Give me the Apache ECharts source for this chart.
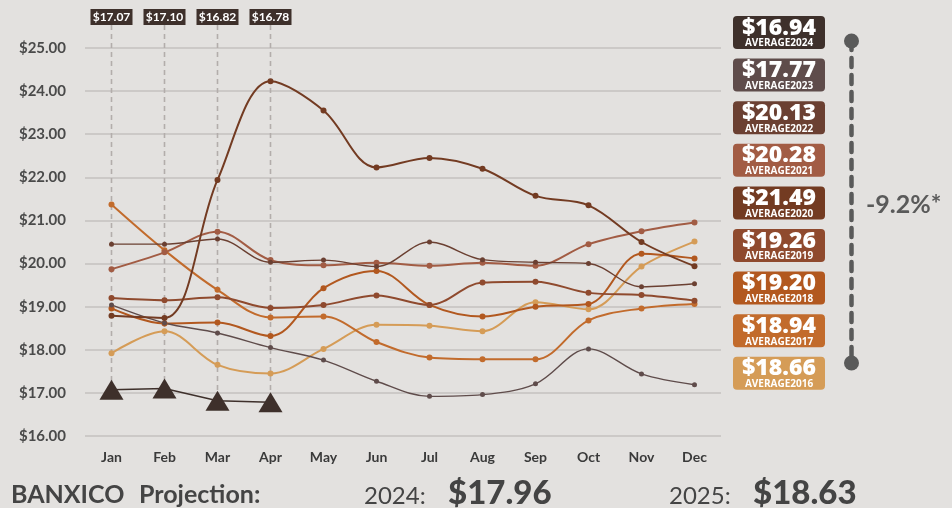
<!DOCTYPE html>
<html>
<head>
<meta charset="utf-8">
<script src="https://cdn.jsdelivr.net/npm/echarts@6/dist/echarts.min.js"></script>
<style>
  html, body { margin: 0; padding: 0; background: #e3e1df; }
  #chart { width: 952px; height: 508px; }
</style>
</head>
<body>
<div id="chart"></div>
<script>
// Monthly USD/MXN exchange rate by year
const months = ['Jan', 'Feb', 'Mar', 'Apr', 'May', 'Jun', 'Jul', 'Aug', 'Sep', 'Oct', 'Nov', 'Dec'];

const rates2016 = [17.92, 18.43, 17.65, 17.45, 18.02, 18.58, 18.56, 18.43, 19.10, 18.94, 19.93, 20.51];
const rates2017 = [21.37, 20.31, 19.39, 18.75, 18.77, 18.18, 17.82, 17.78, 17.78, 18.68, 18.96, 19.06];
const rates2018 = [18.96, 18.61, 18.63, 18.32, 19.43, 19.83, 19.04, 18.77, 19.00, 19.06, 20.23, 20.12];
const rates2019 = [19.20, 19.15, 19.22, 18.97, 19.04, 19.26, 19.04, 19.56, 19.58, 19.32, 19.27, 19.14];
const rates2020 = [18.79, 18.74, 21.94, 24.23, 23.55, 22.23, 22.45, 22.20, 21.57, 21.35, 20.50, 19.94];
const rates2021 = [19.87, 20.26, 20.74, 20.08, 19.96, 20.02, 19.95, 20.02, 19.95, 20.45, 20.75, 20.95];
const rates2022 = [20.45, 20.45, 20.57, 20.03, 20.08, 19.93, 20.50, 20.09, 20.03, 20.00, 19.46, 19.53];
const rates2023 = [19.04, 18.62, 18.39, 18.05, 17.76, 17.27, 16.92, 16.96, 17.21, 18.02, 17.44, 17.19];
const rates2024 = [17.07, 17.10, 16.82, 16.78];

const yearNames = ['2024', '2023', '2022', '2021', '2020', '2019', '2018', '2017', '2016'];
const yearAverages = ['$16.94', '$17.77', '$20.13', '$20.28', '$21.49', '$19.26', '$19.20', '$18.94', '$18.66'];

const changeLabel = '-9.2%*';
const projectionTitle = ['BANXICO', 'Projection:'];
const projectionYears = ['2024:', '2025:'];
const projectionValues = ['$17.96', '$18.63'];

const yMin = 16, yMax = 25, yStep = 1;

// styling
const palette = {
  '2024': '#3e302b', '2023': '#5f4c4b', '2022': '#6b4032', '2021': '#a25c44',
  '2020': '#733b22', '2019': '#8f4a2e', '2018': '#b2581f', '2017': '#c26b2c', '2016': '#d59c57'
};
const bg = '#e3e1df';
const uiFont = 'Lato, "Open Sans", sans-serif';
const badgeFont = '"Open Sans", Lato, sans-serif';

const chart = echarts.init(document.getElementById('chart'), null, { renderer: 'canvas' });

function yearSeries(name, data, width, symbolSize) {
  return {
    name: name,
    type: 'line',
    data: data,
    smooth: 0.35,
    symbol: 'circle',
    symbolSize: symbolSize,
    showSymbol: true,
    lineStyle: { color: palette[name], width: width },
    itemStyle: { color: palette[name] },
    z: 3
  };
}

// vertical guide + value tag above each month of the current year
const tagSeries = {
  type: 'custom',
  data: rates2024.map((v, i) => [i, v]),
  z: 1,
  silent: true,
  renderItem: function (params, api) {
    const p = api.coord([api.value(0), api.value(1)]);
    const text = '$' + api.value(1).toFixed(2);
    return {
      type: 'group',
      children: [
        {
          type: 'line',
          shape: { x1: p[0], y1: 25, x2: p[0], y2: p[1] },
          style: { stroke: '#b3adab', lineWidth: 1.6, lineDash: [5, 4] }
        },
        {
          type: 'rect',
          shape: { x: p[0] - 21, y: 9, width: 42, height: 16 },
          style: { fill: palette['2024'] }
        },
        {
          type: 'text',
          x: p[0], y: 17.5,
          style: {
            text: text, fill: '#ffffff', align: 'center', verticalAlign: 'middle',
            font: '700 12px ' + uiFont
          }
        }
      ]
    };
  }
};

const series = [
  tagSeries,
  yearSeries('2016', rates2016, 2, 6),
  yearSeries('2017', rates2017, 2, 6),
  yearSeries('2018', rates2018, 2, 6),
  yearSeries('2019', rates2019, 2, 6),
  yearSeries('2021', rates2021, 2, 6),
  yearSeries('2022', rates2022, 1.4, 5),
  yearSeries('2023', rates2023, 1.4, 5),
  yearSeries('2020', rates2020, 2, 6),
  {
    name: '2024',
    type: 'line',
    data: rates2024,
    smooth: false,
    symbol: 'triangle',
    symbolSize: [24, 20],
    lineStyle: { color: palette['2024'], width: 1.5 },
    itemStyle: { color: palette['2024'] },
    z: 4
  }
];

// average badges on the right
const badgeChildren = [];
yearNames.forEach((yr, i) => {
  const top = 16 + i * 42.6;
  badgeChildren.push({
    type: 'rect',
    shape: { x: 733, y: top, width: 92, height: 33, r: 4 },
    style: { fill: palette[yr] }
  });
  badgeChildren.push({
    type: 'text',
    x: 779, y: top + 12,
    style: {
      text: yearAverages[i], fill: '#ffffff', align: 'center', verticalAlign: 'middle',
      font: '800 23px ' + badgeFont
    }
  });
  badgeChildren.push({
    type: 'text',
    x: 779, y: top + 27.5,
    style: {
      text: 'AVERAGE' + yr, fill: '#ffffff', align: 'center', verticalAlign: 'middle',
      font: '700 10px ' + badgeFont
    }
  });
});

function label(text, x, y, font, color) {
  return {
    type: 'text', x: x, y: y,
    style: { text: text, fill: color || '#444444', verticalAlign: 'middle', font: font }
  };
}

const graphic = [
  { type: 'group', children: badgeChildren },
  {
    type: 'line',
    shape: { x1: 851.5, y1: 41, x2: 851.5, y2: 363 },
    style: { stroke: '#5a5a5a', lineWidth: 4.5, lineDash: [9, 8], lineCap: 'round' }
  },
  { type: 'circle', shape: { cx: 851.5, cy: 41, r: 7.5 }, style: { fill: '#5a5a5a' } },
  { type: 'circle', shape: { cx: 851.5, cy: 363, r: 7.5 }, style: { fill: '#5a5a5a' } },
  label(changeLabel, 866, 205, '700 25px ' + uiFont, '#5a5a5a'),
  label(projectionTitle[0], 11, 495, '700 25px ' + uiFont),
  label(projectionTitle[1], 139, 495, '700 25px ' + uiFont),
  label(projectionYears[0], 364, 496, '400 24px ' + uiFont),
  label(projectionValues[0], 448, 493, '900 33px ' + uiFont),
  label(projectionYears[1], 669, 496, '400 24px ' + uiFont),
  label(projectionValues[1], 753, 493, '900 33px ' + uiFont)
];

chart.setOption({
  backgroundColor: bg,
  animation: false,
  grid: { left: 85, top: 48, width: 636, height: 388 },
  xAxis: {
    type: 'category',
    data: months,
    boundaryGap: true,
    axisLine: { show: false },
    axisTick: { show: false },
    axisLabel: {
      color: '#3a3a3a', fontSize: 14, fontWeight: 'bold', margin: 14,
      fontFamily: uiFont
    }
  },
  yAxis: {
    type: 'value',
    min: yMin, max: yMax, interval: yStep,
    axisLine: { show: false },
    axisTick: { show: false },
    axisLabel: {
      color: '#4a4a4a', fontSize: 15, fontWeight: 'bold', margin: 19,
      fontFamily: uiFont,
      formatter: v => '$' + v.toFixed(2)
    },
    splitLine: { lineStyle: { color: '#c4c1bf', width: 1.5 } }
  },
  series: series,
  graphic: graphic
});
</script>
</body>
</html>
